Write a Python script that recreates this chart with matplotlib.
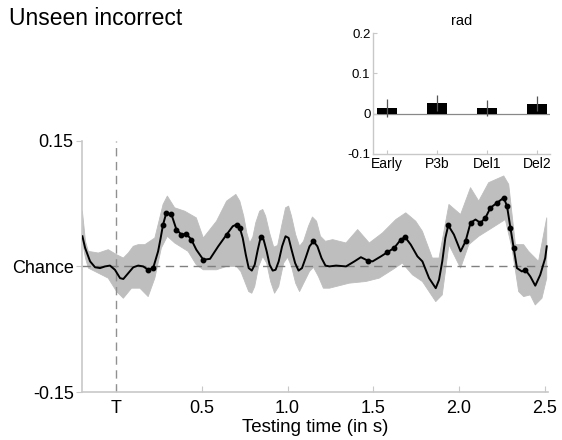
import numpy as np
import matplotlib
matplotlib.use("Agg")
import matplotlib.pyplot as plt

plt.rcParams['font.family'] = ['Liberation Sans', 'DejaVu Sans']

# ---- decoding time course (unseen incorrect trials) ----
time_s = [-0.198, -0.182, -0.153, -0.124, -0.095, -0.066, -0.037, -0.008, 0.022, 0.041,
          0.070, 0.099, 0.128, 0.157, 0.186, 0.215, 0.244, 0.259, 0.273, 0.292,
          0.322, 0.351, 0.380, 0.409, 0.438, 0.467, 0.508, 0.547, 0.595, 0.644,
          0.680, 0.702, 0.721, 0.738, 0.756, 0.773, 0.791, 0.808, 0.826, 0.843,
          0.860, 0.878, 0.895, 0.913, 0.930, 0.948, 0.968, 0.988, 1.006, 1.023,
          1.044, 1.064, 1.084, 1.105, 1.128, 1.151, 1.174, 1.198, 1.221, 1.244,
          1.283, 1.341, 1.390, 1.428, 1.467, 1.496, 1.545, 1.583, 1.622, 1.661,
          1.686, 1.719, 1.758, 1.787, 1.826, 1.865, 1.884, 1.903, 1.921, 1.938,
          1.971, 2.010, 2.039, 2.068, 2.097, 2.126, 2.155, 2.184, 2.223, 2.262,
          2.281, 2.301, 2.320, 2.339, 2.368, 2.388, 2.417, 2.446, 2.475, 2.504,
          2.513]
score = [0.036, 0.022, 0.006, -0.001, -0.002, 0.000, 0.001, -0.004, -0.014, -0.015,
         -0.008, -0.001, 0.001, 0.000, -0.004, -0.002, 0.018, 0.034, 0.050, 0.064,
         0.062, 0.044, 0.038, 0.039, 0.032, 0.020, 0.008, 0.009, 0.024, 0.038,
         0.048, 0.050, 0.046, 0.034, 0.014, -0.002, -0.005, 0.002, 0.020, 0.035,
         0.032, 0.018, 0.002, -0.005, -0.004, 0.006, 0.024, 0.036, 0.034, 0.020,
         0.004, -0.005, -0.002, 0.010, 0.024, 0.030, 0.024, 0.010, 0.001, 0.000,
         0.001, 0.000, 0.006, 0.011, 0.007, 0.006, 0.012, 0.017, 0.022, 0.032,
         0.035, 0.026, 0.012, 0.006, -0.014, -0.026, -0.016, 0.006, 0.034, 0.049,
         0.038, 0.018, 0.030, 0.052, 0.056, 0.052, 0.058, 0.070, 0.076, 0.082,
         0.072, 0.046, 0.022, -0.002, -0.006, -0.004, -0.012, -0.023, -0.010, 0.010,
         0.024]

# time points where decoding is significant
sig_times = [0.186, 0.215, 0.273, 0.292, 0.322, 0.351, 0.380, 0.409, 0.438, 0.508,
             0.644, 0.702, 0.721, 0.843, 1.151, 1.467, 1.583, 1.622, 1.661, 1.686,
             1.938, 2.039, 2.068, 2.126, 2.155, 2.184, 2.223, 2.262, 2.281, 2.301,
             2.320, 2.388]

# confidence band edges
upper_t = [-0.198, -0.180, -0.163, -0.105, -0.047, 0.002, 0.041, 0.070, 0.099, 0.128,
           0.167, 0.225, 0.273, 0.298, 0.341, 0.399, 0.467, 0.508, 0.585, 0.644,
           0.698, 0.721, 0.744, 0.762, 0.779, 0.797, 0.814, 0.837, 0.855, 0.872,
           0.895, 0.919, 0.942, 0.965, 0.988, 1.006, 1.023, 1.047, 1.070, 1.093,
           1.122, 1.145, 1.169, 1.192, 1.221, 1.263, 1.341, 1.409, 1.477, 1.554,
           1.632, 1.690, 1.748, 1.787, 1.845, 1.884, 1.942, 2.010, 2.068, 2.116,
           2.174, 2.262, 2.291, 2.330, 2.378, 2.407, 2.465, 2.513]
upper_v = [0.066, 0.030, 0.018, 0.016, 0.020, 0.014, 0.010, 0.016, 0.024, 0.026,
           0.026, 0.034, 0.074, 0.084, 0.070, 0.066, 0.058, 0.034, 0.054, 0.078,
           0.086, 0.078, 0.060, 0.040, 0.028, 0.035, 0.052, 0.066, 0.068, 0.060,
           0.040, 0.023, 0.025, 0.048, 0.070, 0.072, 0.060, 0.038, 0.024, 0.030,
           0.048, 0.059, 0.054, 0.036, 0.030, 0.032, 0.028, 0.044, 0.028, 0.040,
           0.056, 0.064, 0.054, 0.042, 0.010, 0.010, 0.074, 0.062, 0.094, 0.078,
           0.100, 0.108, 0.098, 0.026, 0.026, 0.018, 0.006, 0.058]
lower_t = [-0.198, -0.180, -0.163, -0.105, -0.047, 0.002, 0.041, 0.089, 0.138, 0.186,
           0.225, 0.263, 0.298, 0.341, 0.419, 0.467, 0.508, 0.585, 0.644, 0.702,
           0.727, 0.750, 0.773, 0.791, 0.808, 0.831, 0.855, 0.878, 0.901, 0.924,
           0.948, 0.977, 1.000, 1.023, 1.047, 1.070, 1.099, 1.128, 1.151, 1.180,
           1.209, 1.244, 1.283, 1.360, 1.457, 1.535, 1.612, 1.670, 1.729, 1.787,
           1.865, 1.903, 1.942, 2.010, 2.058, 2.116, 2.194, 2.271, 2.310, 2.349,
           2.378, 2.417, 2.446, 2.485, 2.513]
lower_v = [0.030, 0.010, -0.002, -0.008, -0.014, -0.030, -0.038, -0.026, -0.026, -0.036,
           -0.014, 0.022, 0.036, 0.028, 0.018, 0.002, -0.004, -0.004, 0.000, 0.000,
           -0.006, -0.018, -0.030, -0.032, -0.024, 0.000, 0.012, 0.004, -0.018, -0.032,
           -0.024, 0.004, 0.011, 0.000, -0.020, -0.030, -0.018, -0.006, -0.001, -0.012,
           -0.026, -0.026, -0.024, -0.020, -0.018, -0.014, -0.004, 0.004, -0.010, -0.018,
           -0.042, -0.034, 0.026, -0.002, 0.026, 0.036, 0.046, 0.056, 0.022, -0.030,
           -0.036, -0.034, -0.046, -0.038, -0.014]

x_ticks = [0.0, 0.5, 1.0, 1.5, 2.0, 2.5]
x_tick_labels = ['T', '0.5', '1.0', '1.5', '2.0', '2.5']
y_ticks = [-0.15, 0.0, 0.15]
y_tick_labels = ['-0.15', 'Chance', '0.15']

# ---- inset: mean score per time window ----
windows = ['Early', 'P3b', 'Del1', 'Del2']
window_mean = [0.014, 0.027, 0.015, 0.025]
window_err = [0.022, 0.020, 0.020, 0.018]
inset_y_ticks = [-0.1, 0.0, 0.1, 0.2]
inset_y_labels = ['-0.1', '0', '0.1', '0.2']

spine_col = '#c8c8c8'

fig = plt.figure(figsize=(5.62, 4.40), dpi=100)
ax = fig.add_axes([0.146, 0.109, 0.829, 0.571])

t = np.array(time_s)
v = np.array(score)
band_x = np.concatenate([upper_t, lower_t[::-1]])
band_y = np.concatenate([upper_v, lower_v[::-1]])
ax.fill(band_x, band_y, color='#bebebe', lw=0.6, ec='#bebebe', joinstyle='round', zorder=1)
ax.axhline(0, color='#808080', lw=1, dashes=(6, 4), zorder=2)
ax.axvline(0, color='#909090', lw=1, dashes=(6, 4), zorder=2)
ax.plot(t, v, color='black', lw=1.4, solid_joinstyle='round', zorder=3)
mask = np.isin(np.round(t, 3), sig_times)
ax.plot(t[mask], v[mask], 'o', color='black', ms=3.2, zorder=4)

ax.set_xlim(-0.2, 2.52)
ax.set_ylim(-0.15, 0.15)
ax.set_xticks(x_ticks)
ax.set_xticklabels(x_tick_labels, fontsize=13)
ax.set_yticks(y_ticks)
ax.set_yticklabels(y_tick_labels, fontsize=13)
ax.tick_params(axis='x', direction='in', length=4, color=spine_col, pad=6)
ax.tick_params(axis='y', direction='out', length=4, color=spine_col, pad=2)
for side in ('top', 'right'):
    ax.spines[side].set_visible(False)
for side in ('left', 'bottom'):
    ax.spines[side].set_color(spine_col)
    ax.spines[side].set_linewidth(1.2)
ax.set_xlabel('Testing time (in s)', fontsize=13.5, labelpad=1)

fig.text(0.016, 0.957, 'Unseen incorrect', fontsize=16.5, va='center', ha='left')

# inset bar chart
ins = fig.add_axes([0.664, 0.65, 0.315, 0.275])
pos = np.arange(1, len(windows) + 1)
ins.bar(pos, window_mean, width=0.4, color='black', zorder=2)
ins.errorbar(pos, window_mean, yerr=window_err, fmt='none', ecolor='#555555',
             elinewidth=0.9, capsize=0, zorder=3)
ins.axhline(0, color='#888888', lw=0.9, zorder=1)
ins.set_xlim(0.72, 4.26)
ins.set_ylim(-0.1, 0.2)
ins.set_xticks(pos)
ins.set_xticklabels(windows, fontsize=10)
ins.set_yticks(inset_y_ticks)
ins.set_yticklabels(inset_y_labels, fontsize=9.5)
ins.tick_params(axis='both', direction='in', length=3, color=spine_col, pad=2)
for side in ('top', 'right'):
    ins.spines[side].set_visible(False)
for side in ('left', 'bottom'):
    ins.spines[side].set_color(spine_col)
    ins.spines[side].set_linewidth(1.0)
ins.set_title('rad', fontsize=10.5, pad=6)

fig.savefig('out.png', dpi=100)
